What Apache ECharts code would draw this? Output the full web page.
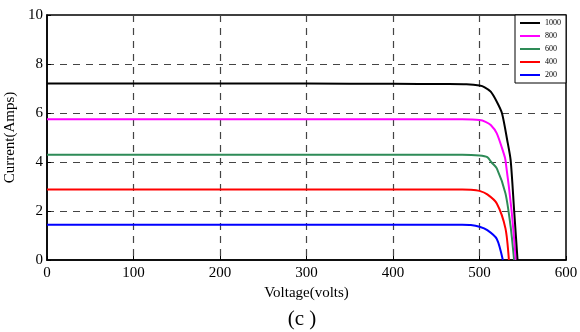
<!DOCTYPE html>
<html>
<head>
<meta charset="utf-8">
<script src="https://cdn.jsdelivr.net/npm/echarts@6/dist/echarts.min.js"></script>
<style>html,body{margin:0;padding:0;background:#fff;}#c{width:580px;height:332px;}</style>
</head>
<body>
<div id="c"></div>
<script>
var seriesNames = ['1000', '800', '600', '400', '200'];
var v1000 = [0, 100, 200, 300, 400, 460, 485, 500, 506, 513, 520, 526, 532, 536, 540, 544];
var i1000 = [7.2, 7.2, 7.2, 7.2, 7.19, 7.18, 7.17, 7.12, 7.05, 6.87, 6.46, 5.99, 4.9, 4.08, 2.04, 0];
var v800 = [0, 100, 200, 300, 400, 480, 500, 507, 513, 520, 528, 530, 537, 542];
var i800 = [5.75, 5.75, 5.75, 5.75, 5.75, 5.74, 5.71, 5.64, 5.51, 5.17, 4.35, 4.08, 2.04, 0];
var v600 = [0, 100, 200, 300, 400, 480, 500, 509, 514, 520, 530, 536, 540];
var i600 = [4.3, 4.3, 4.3, 4.3, 4.3, 4.3, 4.27, 4.2, 3.98, 3.74, 2.72, 1.36, 0];
var v400 = [0, 100, 200, 300, 400, 480, 490, 500, 509, 520, 530, 534];
var i400 = [2.88, 2.88, 2.88, 2.88, 2.88, 2.88, 2.87, 2.82, 2.68, 2.31, 1.29, 0];
var v200 = [0, 100, 200, 300, 400, 480, 490, 500, 509, 520, 527];
var i200 = [1.44, 1.44, 1.44, 1.44, 1.44, 1.44, 1.43, 1.36, 1.22, 0.86, 0];
var colors = ['#000000', '#ff00ff', '#2e8b57', '#ff0000', '#0000ff'];

function pairs(v, i) { return v.map(function (x, k) { return [x, i[k]]; }); }
var allV = [v1000, v800, v600, v400, v200];
var allI = [i1000, i800, i600, i400, i200];

var font = 'Liberation Serif';
var chart = echarts.init(document.getElementById('c'), null, {renderer: 'canvas'});
chart.setOption({
  animation: false,
  backgroundColor: '#fff',
  title: {
    text: '(c )', left: 297, top: 304, textAlign: 'center',
    textStyle: {fontFamily: font, fontSize: 21, fontWeight: 'normal', color: '#000'}
  },
  grid: {left: 47, right: 14, top: 15, bottom: 72, show: true, borderColor: '#000', borderWidth: 1.5,
    backgroundColor: 'transparent', containLabel: false, outerBoundsMode: 'none'},
  legend: {
    right: 14, top: 15, orient: 'vertical', itemWidth: 20, itemHeight: 2, itemGap: 5,
    icon: 'rect', backgroundColor: '#fff', borderColor: '#000', borderWidth: 1,
    padding: [4, 5, 4, 5], borderRadius: 0,
    textStyle: {fontFamily: font, fontSize: 8, color: '#000'},
    data: seriesNames
  },
  xAxis: {
    type: 'value', min: 0, max: 600, interval: 100,
    name: 'Voltage(volts)', nameLocation: 'middle', nameGap: 20,
    nameTextStyle: {fontFamily: font, fontSize: 15, color: '#000'},
    axisLine: {show: true, lineStyle: {color: '#000', width: 1.5}},
    axisTick: {show: true, inside: true, length: 4, lineStyle: {color: '#000'}},
    axisLabel: {fontFamily: font, fontSize: 15, color: '#000', margin: 6},
    splitLine: {show: true, showMinLine: false, showMaxLine: false, lineStyle: {color: '#444', type: [7, 6], width: 1.2}}
  },
  yAxis: {
    type: 'value', min: 0, max: 10, interval: 2,
    name: 'Current(Amps)', nameLocation: 'middle', nameGap: 27,
    nameTextStyle: {fontFamily: font, fontSize: 15, color: '#000'},
    axisLine: {show: true, lineStyle: {color: '#000', width: 1.5}},
    axisTick: {show: true, inside: true, length: 4, lineStyle: {color: '#000'}},
    axisLabel: {fontFamily: font, fontSize: 15, color: '#000', margin: 4},
    splitLine: {show: true, showMinLine: false, showMaxLine: false, lineStyle: {color: '#444', type: [7, 6], width: 1.2}}
  },
  series: seriesNames.map(function (n, k) {
    return {
      name: n, type: 'line', data: pairs(allV[k], allI[k]), showSymbol: false,
      smooth: 0.25, color: colors[k], lineStyle: {width: 2, color: colors[k]}, z: 5 - k
    };
  })
});
</script>
</body>
</html>
